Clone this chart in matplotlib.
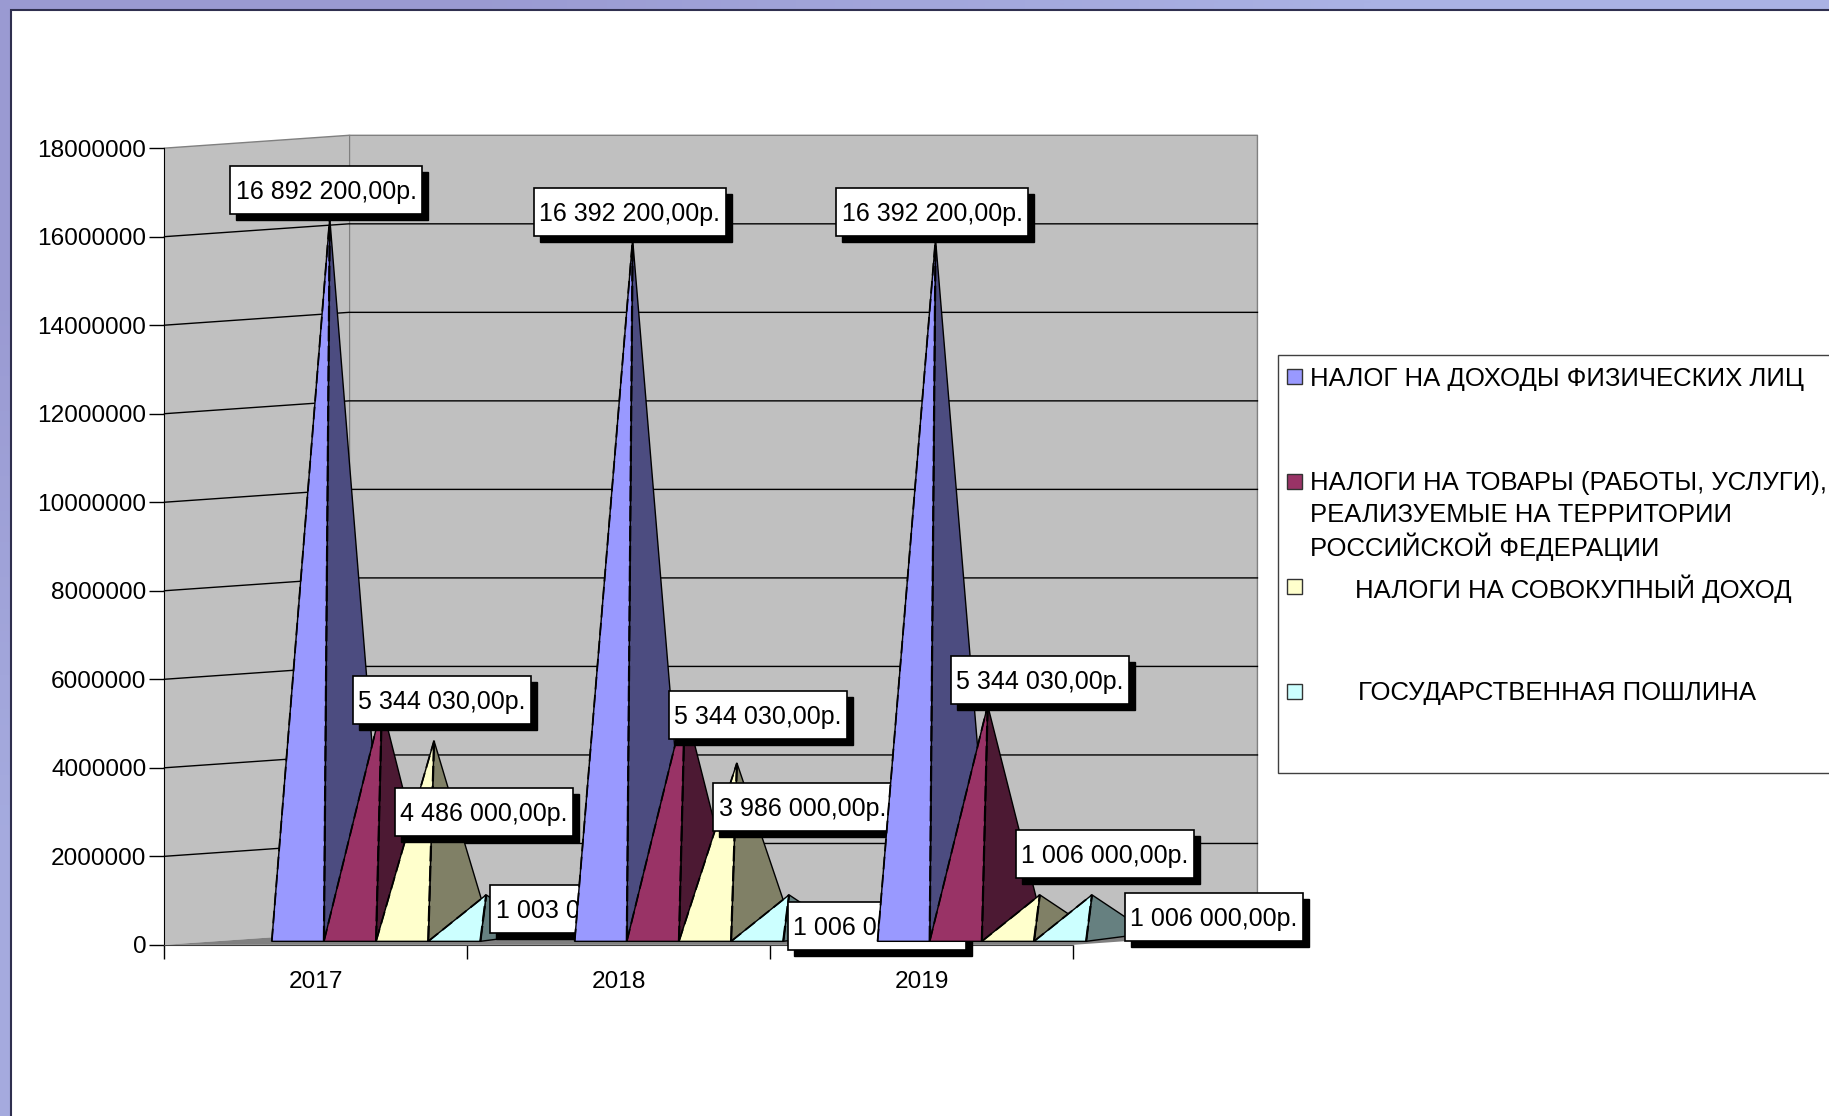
import numpy as np
import matplotlib
matplotlib.use("Agg")
import matplotlib.pyplot as plt
from matplotlib.colors import LinearSegmentedColormap
from matplotlib.patches import Rectangle
from matplotlib.transforms import IdentityTransform

plt.rcParams["font.family"] = ["Liberation Sans", "DejaVu Sans"]

# Data
years = ["2017", "2018", "2019"]
ndfl = [16340000, 15860000, 15860000]
tovary = [5330000, 5330000, 5330000]
sovokupny = [4530000, 4030000, 1050000]
poshlina = [1050000, 1050000, 1050000]
series = [ndfl, tovary, sovokupny, poshlina]

ndfl_labels = ["16 892 200,00р.", "16 392 200,00р.", "16 392 200,00р."]
tovary_labels = ["5 344 030,00р.", "5 344 030,00р.", "5 344 030,00р."]
sovokupny_labels = ["4 486 000,00р.", "3 986 000,00р.", "1 006 000,00р."]
poshlina_labels = ["1 003 000,00р.", "1 006 000,00р.", "1 006 000,00р."]
labels = [ndfl_labels, tovary_labels, sovokupny_labels, poshlina_labels]

legend_names = [
    ["НАЛОГ НА ДОХОДЫ ФИЗИЧЕСКИХ ЛИЦ"],
    ["НАЛОГИ НА ТОВАРЫ (РАБОТЫ, УСЛУГИ),", "РЕАЛИЗУЕМЫЕ НА ТЕРРИТОРИИ", "РОССИЙСКОЙ ФЕДЕРАЦИИ"],
    ["НАЛОГИ НА СОВОКУПНЫЙ ДОХОД"],
    ["ГОСУДАРСТВЕННАЯ ПОШЛИНА"],
]
yticks = np.arange(0, 18000001, 2000000)

# Colours: lit face, shaded face
light = ["#9999ff", "#993366", "#ffffcc", "#ccffff"]
dark = ["#4c4c80", "#4c1933", "#808066", "#668080"]

W, H = 1829, 1116
S = W / 1568  # measurements below were taken on the 1568 wide view

fig = plt.figure(figsize=(W / 100, H / 100), dpi=100, facecolor="white")

# Slide border, slightly lighter towards the far corner
bg = fig.add_axes([0, 0, 1, 1], zorder=-2)
slide_cmap = LinearSegmentedColormap.from_list("slide", ["#9a9ad2", "#aab2e4"])
bg.imshow([[0.0, 1.0], [0.7, 1.0]], cmap=slide_cmap, aspect="auto", interpolation="bilinear")
bg.axis("off")
fig.add_artist(Rectangle((11 / W, -0.05), 1.1, 1.05 - 10 / H, transform=fig.transFigure,
                         fc="white", ec="#2f2f4f", lw=1.5, zorder=-1))


def fig_xy(x, y):
    return x * S / W, 1 - y * S / H


x0, x1 = 141 * S, 920 * S
y0, y1 = 810 * S, 127 * S
ax = fig.add_axes([x0 / W, 1 - y0 / H, (x1 - x0) / W, (y0 - y1) / H], facecolor="none")
ax.set_xlim(0, 3)
ax.set_ylim(0, 18000000)

# depth of the fake 3D box, in data units
per_px_x = 3 / 779.0
per_px_y = 18000000 / 683.0
depth_x = 158 * per_px_x
depth_y = 11 * per_px_y
y_max = yticks[-1]

# Walls and floor
ax.fill([0, depth_x, depth_x, 0], [0, depth_y, y_max + depth_y, y_max],
        fc="#c0c0c0", ec="none", zorder=1, clip_on=False)
ax.fill([depth_x, 3 + depth_x, 3 + depth_x, depth_x],
        [depth_y, depth_y, y_max + depth_y, y_max + depth_y],
        fc="#c0c0c0", ec="none", zorder=1, clip_on=False)
ax.fill([0, depth_x, 3 + depth_x, 3], [0, depth_y, depth_y, 0],
        fc="#808080", ec="none", zorder=1.1, clip_on=False)
ax.plot([0, depth_x, 3 + depth_x, 3 + depth_x], [y_max, y_max + depth_y, y_max + depth_y, depth_y],
        color="#808080", lw=1, zorder=1.2, clip_on=False)
ax.plot([depth_x, depth_x], [depth_y, y_max + depth_y], color="#808080", lw=1, zorder=1.2, clip_on=False)

for v in yticks[1:-1]:
    ax.plot([0, depth_x, 3 + depth_x], [v, v + depth_y, v + depth_y],
            color="black", lw=1, zorder=1.5, clip_on=False)

# Pyramids and their labels, one category over the other
left_start = 92 * per_px_x
step = 44.7 * per_px_x
back_w = 99 * per_px_x
apex_dx = 5 * per_px_x
base = 3 * per_px_y  # base sits 3 px above the zero line
back_base = 10 * per_px_y

# label box centre relative to the apex, px on the 1568 view
offs_x = [[-3, -2.5, -3], [51.5, 62.5, 45], [42.5, 56, 56], [80, 75.5, 104.5]]
offs_y = [[24, 23.5, 23.5], [5, -8, 22], [-61, -38, 35], [-12, -26.5, -19]]
box_w = [192, 178, 178, 178]
box_h = 48

for i in range(len(years)):
    for j, vals in enumerate(series):
        z = 10 + 10 * i + j * 0.1
        L = i + left_start + j * step
        F = L + step
        R = L + back_w
        A = F + apex_dx
        top = vals[i] + base
        ax.fill([F, R, A], [base, back_base, top], fc=dark[j], ec="black", lw=1, zorder=z, clip_on=False)
        ax.fill([L, F, A], [base, base, top], fc=light[j], ec="black", lw=1, zorder=z + 0.01, clip_on=False)
        # the near vertical edges look broken in the original
        ax.plot([F, A], [base, top], color="black", lw=1.6, ls=(0, (7, 2)), zorder=z + 0.02, clip_on=False)
        ax.plot([L, A], [base, top], color="black", lw=1.3, ls=(0, (7, 3)), zorder=z + 0.02, clip_on=False)
    for j, vals in enumerate(series):
        z = 15 + 10 * i + j * 0.1
        L = i + left_start + j * step
        px, py = ax.transData.transform((L + step + apex_dx, vals[i] + base))
        cx = px + offs_x[j][i] * S
        cy = py + offs_y[j][i] * S
        w = box_w[j]
        shadow = Rectangle((cx - w / 2 + 6, cy - box_h / 2 - 6), w, box_h, transform=IdentityTransform(),
                           fc="black", ec="black", zorder=z, clip_on=False)
        box = Rectangle((cx - w / 2, cy - box_h / 2), w, box_h, transform=IdentityTransform(),
                        fc="white", ec="black", lw=1.2, zorder=z + 0.01, clip_on=False)
        ax.add_patch(shadow)
        ax.add_patch(box)
        ax.text(cx, cy - 2, labels[j][i], transform=IdentityTransform(), ha="center", va="center",
                fontsize=18, color="black", zorder=z + 0.02, clip_on=False)

# Axes
ax.set_yticks(yticks)
ax.set_yticklabels([str(v) for v in yticks], fontsize=17.6)
ax.set_xticks([0, 1, 2, 3])
ax.set_xticklabels([])
ax.set_xticks([0.5, 1.5, 2.5], labels=years, minor=True, fontsize=17.6)
ax.tick_params(axis="y", length=11, width=1, pad=2)
ax.tick_params(axis="x", which="major", length=10, width=1)
ax.tick_params(axis="x", which="minor", length=0, pad=19)
for side in ["top", "right"]:
    ax.spines[side].set_visible(False)
ax.spines["bottom"].set_color("#404040")

# Legend, cut by the right edge of the slide as in the original
bx, by = fig_xy(1096, 663)
fig.add_artist(Rectangle((bx, by), 1, (663 - 304) * S / H, transform=fig.transFigure,
                         fc="white", ec="#404040", lw=1, zorder=3))
legend_y = [323, 413, 503, 593]
legend_x = [1123, 1123, 1162, 1164]
line_gap = 27
for k, lines in enumerate(legend_names):
    hx, hy = fig_xy(1103, legend_y[k] + 6.5)
    fig.add_artist(Rectangle((hx, hy), 13 * S / W, 13 * S / H, transform=fig.transFigure,
                             fc=light[k], ec="#333333", lw=1, zorder=4))
    for n, line in enumerate(lines):
        tx, ty = fig_xy(legend_x[k], legend_y[k] + 1.5 + n * line_gap)
        fig.text(tx, ty, line, fontsize=18.5, va="center", ha="left", zorder=4)

fig.savefig("out.png", dpi=100)
